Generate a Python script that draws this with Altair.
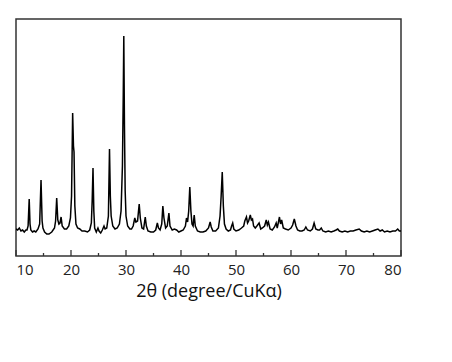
import altair as alt
import pandas as pd

two_theta = [10.0, 10.3, 10.6, 10.9, 11.2, 11.5, 11.8, 12.0, 12.2, 12.4, 12.55, 12.7, 13.0, 13.3, 13.6, 14.0, 14.3, 14.55, 14.75, 14.9,
             15.2, 15.6, 16.0, 16.5, 17.0, 17.2, 17.4, 17.6, 17.8, 18.0, 18.2, 18.4, 18.8, 19.2, 19.6, 19.9, 20.1, 20.3, 20.45, 20.55,
             20.7, 20.9, 21.2, 21.6, 22.0, 22.5, 23.0, 23.4, 23.7, 23.85, 24.0, 24.15, 24.3, 24.6, 24.9, 25.1, 25.4, 25.7, 26.0, 26.2,
             26.5, 26.8, 27.0, 27.15, 27.3, 27.6, 28.0, 28.4, 28.8, 29.1, 29.35, 29.5, 29.6, 29.72, 29.85, 30.0, 30.3, 30.7, 31.0, 31.3,
             31.6, 31.8, 32.1, 32.4, 32.6, 32.9, 33.2, 33.5, 33.7, 34.0, 34.5, 35.0, 35.4, 35.7, 35.9, 36.2, 36.5, 36.7, 36.9, 37.2,
             37.5, 37.8, 38.0, 38.4, 38.8, 39.2, 39.6, 40.0, 40.4, 40.8, 41.0, 41.2, 41.4, 41.6, 41.8, 42.0, 42.2, 42.4, 42.6, 43.0,
             43.5, 44.0, 44.5, 45.0, 45.3, 45.5, 45.8, 46.3, 46.8, 47.1, 47.3, 47.5, 47.7, 47.9, 48.2, 48.6, 49.0, 49.2, 49.4, 49.6,
             50.0, 50.5, 51.0, 51.4, 51.6, 51.9, 52.1, 52.3, 52.6, 52.8, 53.0, 53.2, 53.5, 53.8, 54.2, 54.5, 54.8, 55.2, 55.5, 55.7,
             55.9, 56.2, 56.6, 57.0, 57.3, 57.5, 57.9, 58.1, 58.3, 58.6, 59.0, 59.5, 60.0, 60.3, 60.6, 60.9, 61.2, 61.6, 62.0, 62.4,
             62.7, 63.0, 63.5, 63.9, 64.2, 64.5, 64.9, 65.2, 65.5, 65.8, 66.3, 66.8, 67.3, 67.8, 68.2, 68.5, 68.8, 69.3, 69.8, 70.3,
             70.8, 71.3, 71.8, 72.4, 72.8, 73.3, 73.8, 74.3, 74.8, 75.3, 75.8, 76.2, 76.6, 77.0, 77.5, 78.0, 78.5, 79.0, 79.4, 79.7,
             80.0]
intensity = [27, 26, 28, 25, 26, 24, 26, 26, 30, 57, 32, 26, 24, 25, 24, 27, 32, 76, 35, 28,
             24, 22, 22, 24, 28, 35, 58, 36, 32, 33, 39, 30, 27, 27, 30, 38, 60, 143, 110, 104,
             50, 32, 28, 27, 25, 25, 24, 26, 33, 55, 88, 45, 28, 24, 28, 25, 23, 26, 30, 27,
             28, 40, 107, 60, 40, 30, 27, 28, 32, 45, 90, 160, 220, 130, 65, 40, 30, 27, 27, 30,
             38, 34, 35, 52, 38, 28, 27, 39, 30, 25, 24, 24, 26, 33, 28, 26, 32, 50, 38, 28,
             30, 43, 30, 26, 27, 26, 24, 25, 26, 30, 38, 34, 45, 69, 45, 32, 30, 41, 30, 25,
             24, 24, 25, 28, 34, 29, 25, 25, 28, 40, 60, 84, 50, 32, 27, 25, 26, 30, 33, 27,
             25, 26, 28, 30, 35, 39, 33, 35, 41, 36, 37, 30, 28, 30, 33, 27, 28, 30, 36, 31,
             34, 27, 26, 29, 33, 28, 39, 32, 36, 28, 27, 26, 28, 31, 37, 30, 26, 25, 25, 26,
             29, 26, 25, 27, 33, 27, 26, 26, 28, 25, 24, 25, 24, 25, 26, 27, 25, 24, 25, 24,
             25, 25, 26, 27, 25, 24, 25, 24, 25, 26, 27, 25, 26, 24, 25, 24, 25, 25, 27, 25,
             25]

major_ticks = [10, 20, 30, 40, 50, 60, 70, 80]
minor_ticks = [15, 25, 35, 45, 55, 65, 75]

df = pd.DataFrame({"two_theta": two_theta, "intensity": intensity})
major_df = pd.DataFrame({"t": major_ticks})
minor_df = pd.DataFrame({"t": minor_ticks})

W, H = 385, 237
xscale = alt.Scale(domain=[10, 80], nice=False)

line = alt.Chart(df).mark_line(color="black", strokeWidth=1.5, clip=True).encode(
    x=alt.X("two_theta:Q", scale=xscale,
            axis=alt.Axis(values=major_ticks, format="d", ticks=False, domain=False, grid=False,
                          labelFont="Open Sans", labelFontSize=15, labelColor="#222",
                          labelPadding=6, title="2θ (degree/CuKα)", titleFont="Open Sans",
                          titleFontSize=18, titleFontWeight="normal", titleColor="#111",
                          titlePadding=5)),
    y=alt.Y("intensity:Q", scale=alt.Scale(domain=[0, 237], nice=False), axis=None),
)

major = alt.Chart(major_df).mark_rule(color="#333", strokeWidth=1.3).encode(
    x=alt.X("t:Q", scale=xscale),
    y=alt.value(H - 6), y2=alt.value(H),
)
minor = alt.Chart(minor_df).mark_rule(color="#333", strokeWidth=1.3).encode(
    x=alt.X("t:Q", scale=xscale),
    y=alt.value(H - 3), y2=alt.value(H),
)

chart = alt.layer(line, major, minor).properties(
    width=W, height=H,
    background="white",
    autosize=alt.AutoSizeParams(type="none"),
    padding={"left": 16, "top": 19, "right": 51, "bottom": 106},
).configure_view(stroke="#333", strokeWidth=1.5)

chart.save("out.html", embed_options={"renderer": "svg", "actions": False})
